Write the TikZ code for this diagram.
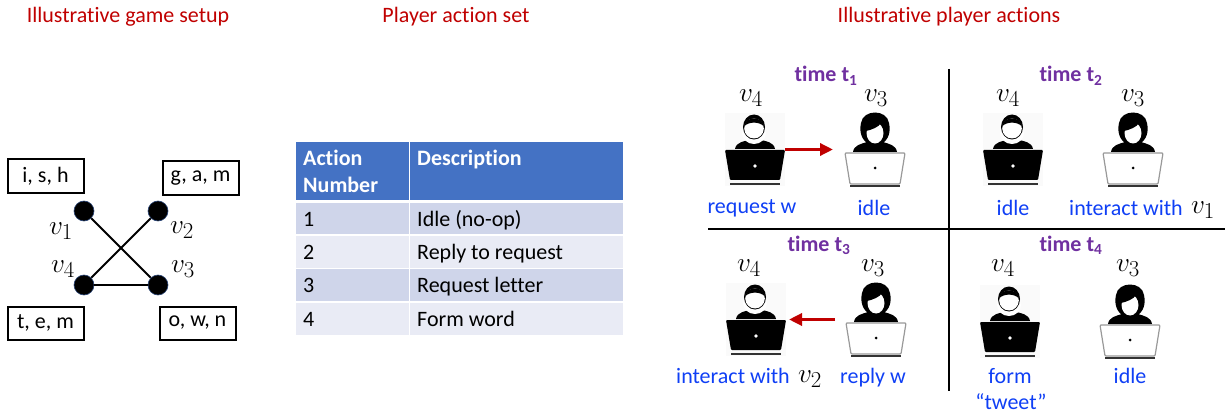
\documentclass[tikz,border=0pt]{standalone}
\usepackage{fontspec}
\setmainfont{Carlito}[Ligatures=CommonOff]
\usetikzlibrary{arrows.meta}
\definecolor{titlered}{HTML}{C00000}
\definecolor{actionblue}{HTML}{0F3FF5}
\definecolor{timepurple}{HTML}{7030A0}
\definecolor{headblue}{HTML}{4472C4}
\definecolor{rowdark}{HTML}{CFD5EA}
\definecolor{rowlight}{HTML}{E9EBF5}
\newcommand{\bodyfont}{\fontsize{22}{26}\selectfont}
\newcommand{\mathfont}{\fontsize{24.88}{30}\selectfont}
\tikzset{
	fixedline/.style={text height=18pt, text depth=3pt, inner sep=0pt},
	title/.style={text=titlered, font=\bodyfont, fixedline},
	vertex/.style={shape=circle, fill=black, draw=headblue!60!black, line width=0.6pt, minimum size=20pt, inner sep=0pt},
	letters/.style={shape=rectangle, draw=black, line width=2pt, minimum width=76pt, minimum height=33pt, inner sep=0pt, font=\bodyfont},
	vlabel/.style={font=\mathfont, inner sep=0pt, scale=1.1},
	cell/.style={shape=rectangle, anchor=north west, inner sep=0pt, text depth=0pt},
	celltext/.style={anchor=west, font=\bodyfont, fixedline},
	timelabel/.style={text=timepurple, font=\bodyfont\bfseries, fixedline},
	action/.style={text=actionblue, font=\bodyfont, fixedline},
	divider/.style={line width=2pt, black},
	msg/.style={-{Triangle[length=13pt,width=12pt]}, titlered, line width=3.3pt},
	manicon/.pic={
		\fill[black!2] (-30,0) rectangle (30,73);
		\fill[black] (-20,36) .. controls (-19,29) and (-10,28) .. (-6,27) -- (6,27) .. controls (10,28) and (19,29) .. (20,36) -- cycle;
		\fill[white] (-1,20) ellipse (12 and 11);
		\fill[black] (-1,14) ellipse (11 and 12.5);
		\fill[white] (-1,15.5) ellipse (9.8 and 10);
		\fill[black] (-10.5,13) .. controls (-10,3) and (8,3) .. (8.5,13) .. controls (4,8.5) and (-6,8.5) .. (-10.5,13) -- cycle;
		\fill[black, rounded corners=1pt] (-30,37) -- (30,37) -- (25,67) -- (-25,67) -- cycle;
		\fill[white] (0,53) circle (1.8);
		\draw[line width=2pt, black!80] (-25,71) -- (25,71);
		\coordinate (-side) at (30,36.5);
	},
	womanicon/.pic={
		\fill[black] (-22,39) .. controls (-21,32) and (-14,31) .. (-8,29) -- (8,29) .. controls (14,31) and (21,32) .. (22,39) -- cycle;
		\fill[black] (-8,30) .. controls (-16,24) and (-15,14) .. (-14,10) .. controls (-12,-4) and (12,-4) .. (14,10) .. controls (15,14) and (16,24) .. (8,30) -- cycle;
		\fill[white] (0,20) ellipse (8.5 and 10.5);
		\fill[black] (-9,18) .. controls (-4,17) and (4,14) .. (6,10) .. controls (7,13) and (9,16) .. (9,20) .. controls (11,6) and (-11,4) .. (-9,18) -- cycle;
		\filldraw[fill=white, draw=black!40, line width=1.2pt, rounded corners=1pt] (-30,40) -- (30,40) -- (25,71) -- (-25,71) -- cycle;
		\fill[black] (0,55) circle (1.5);
		\draw[line width=2pt, black!80] (-25,73) -- (25,73);
		\coordinate (-side) at (-30,36.5);
	},
}
\begin{document}
\begin{tikzpicture}[x=1pt, y=-1pt]
	\useasboundingbox (0,0) rectangle (1225,414);

	% titles
	\node[title] (title1) at (128,15.5)  {Illustrative game setup};
	\node[title] (title2) at (456,15.5)  {Player action set};
	\node[title] (title3) at (949,15.5)  {Illustrative player actions};

	% game graph
	\node[vertex] (v1) at (84,211)  {};
	\node[vertex] (v2) at (158,211) {};
	\node[vertex] (v3) at (158,285) {};
	\node[vertex] (v4) at (84,285)  {};

	\path [-, line width=2pt] (v1) edge (v3);
	\path [-, line width=2pt] (v2) edge (v4);
	\path [-, line width=2pt] (v4) edge (v3);

	\node[letters] (l1) at (45.5,176)  {i, s, h};
	\node[letters] (l2) at (200.5,178) {g, a, m};
	\node[letters] (l3) at (45.5,323)  {t, e, m};
	\node[letters] (l4) at (197.5,323) {o, w, n};

	\node[vlabel] (n1) at (61,231)  {$v_1$};
	\node[vlabel] (n2) at (182,230) {$v_2$};
	\node[vlabel] (n3) at (183,269) {$v_3$};
	\node[vlabel] (n4) at (63,269)  {$v_4$};

	% table
	\node[cell, fill=headblue, minimum width=113pt, minimum height=58pt] (h1) at (296,142) {};
	\node[cell, fill=headblue, minimum width=213pt, minimum height=58pt] (h2) at (410,142) {};
	\foreach \y/\h/\c/\num/\desc in {203/31/rowdark/1/Idle (no-op), 236/32/rowlight/2/Reply to request, 269/32/rowdark/3/Request letter, 303/32/rowlight/4/Form word} {
		\node[cell, fill=\c, minimum width=113pt, minimum height=\h pt] (a\num) at (296,\y) {};
		\node[cell, fill=\c, minimum width=213pt, minimum height=\h pt] (d\num) at (410,\y) {};
		\node[celltext] at (a\num.west) [xshift=7pt] {\num};
		\node[celltext] at (d\num.west) [xshift=7pt] {\desc};
	}
	\node[celltext, text=white, font=\bodyfont\bfseries] (t1) at (303,158.5) {Action};
	\node[celltext, text=white, font=\bodyfont\bfseries] (t2) at (303,185.5) {Number};
	\node[celltext, text=white, font=\bodyfont\bfseries] (t3) at (417,158.5) {Description};

	% quadrant dividers
	\coordinate (top)   at (949,69);
	\coordinate (bot)   at (949,391);
	\coordinate (left)  at (708,229);
	\coordinate (right) at (1225,229);
	\draw[divider] (top) -- (bot);
	\draw[divider] (left) -- (right);

	% player icons
	\pic (m1) at (755,113)  {manicon};
	\pic (w1) at (875,113)  {womanicon};
	\pic (m2) at (1013,113) {manicon};
	\pic (w2) at (1133,113) {womanicon};
	\pic (m3) at (756,283)  {manicon};
	\pic (w3) at (876,283)  {womanicon};
	\pic (m4) at (1010,285) {manicon};
	\pic (w4) at (1130,285) {womanicon};

	\draw[msg, shorten >=12pt] (m1-side) -- (w1-side);
	\draw[msg, shorten <=11pt, shorten >=3pt] (w3-side) -- (m3-side);

	% time labels
	\node[timelabel] (time1) at (826,74.5)  {time t\textsubscript{1}};
	\node[timelabel] (time2) at (1071,74.5) {time t\textsubscript{2}};
	\node[timelabel] (time3) at (819,243.5) {time t\textsubscript{3}};
	\node[timelabel] (time4) at (1071,243.5) {time t\textsubscript{4}};

	% player names
	\foreach \nm/\x/\y/\txt in {p1/751/98/4, p2/876/98/3, p3/1008/98/4, p4/1133/98/3, p5/749/268/4, p6/873/268/3, p7/1003/268/4, p8/1128/268/3} {
		\node[vlabel] (\nm) at (\x,\y) {$v_\txt$};
	}

	% actions
	\node[action] (a11) at (752,205.5)  {request w};
	\node[action] (a12) at (874,207.5)  {idle};
	\node[action] (a21) at (1013,207.5) {idle};
	\node[action] (a22) at (1126,207.5) {interact with};
	\node[vlabel] (a23) at (1203,210)   {$v_1$};
	\node[action] (a31) at (733,376)    {interact with};
	\node[vlabel] (a32) at (810,379)    {$v_2$};
	\node[action] (a33) at (873,376)    {reply w};
	\node[action] (a41) at (1010,376)   {form};
	\node[action] (a42) at (1011,402)   {“tweet”};
	\node[action] (a43) at (1130,376)   {idle};
\end{tikzpicture}
\end{document}
